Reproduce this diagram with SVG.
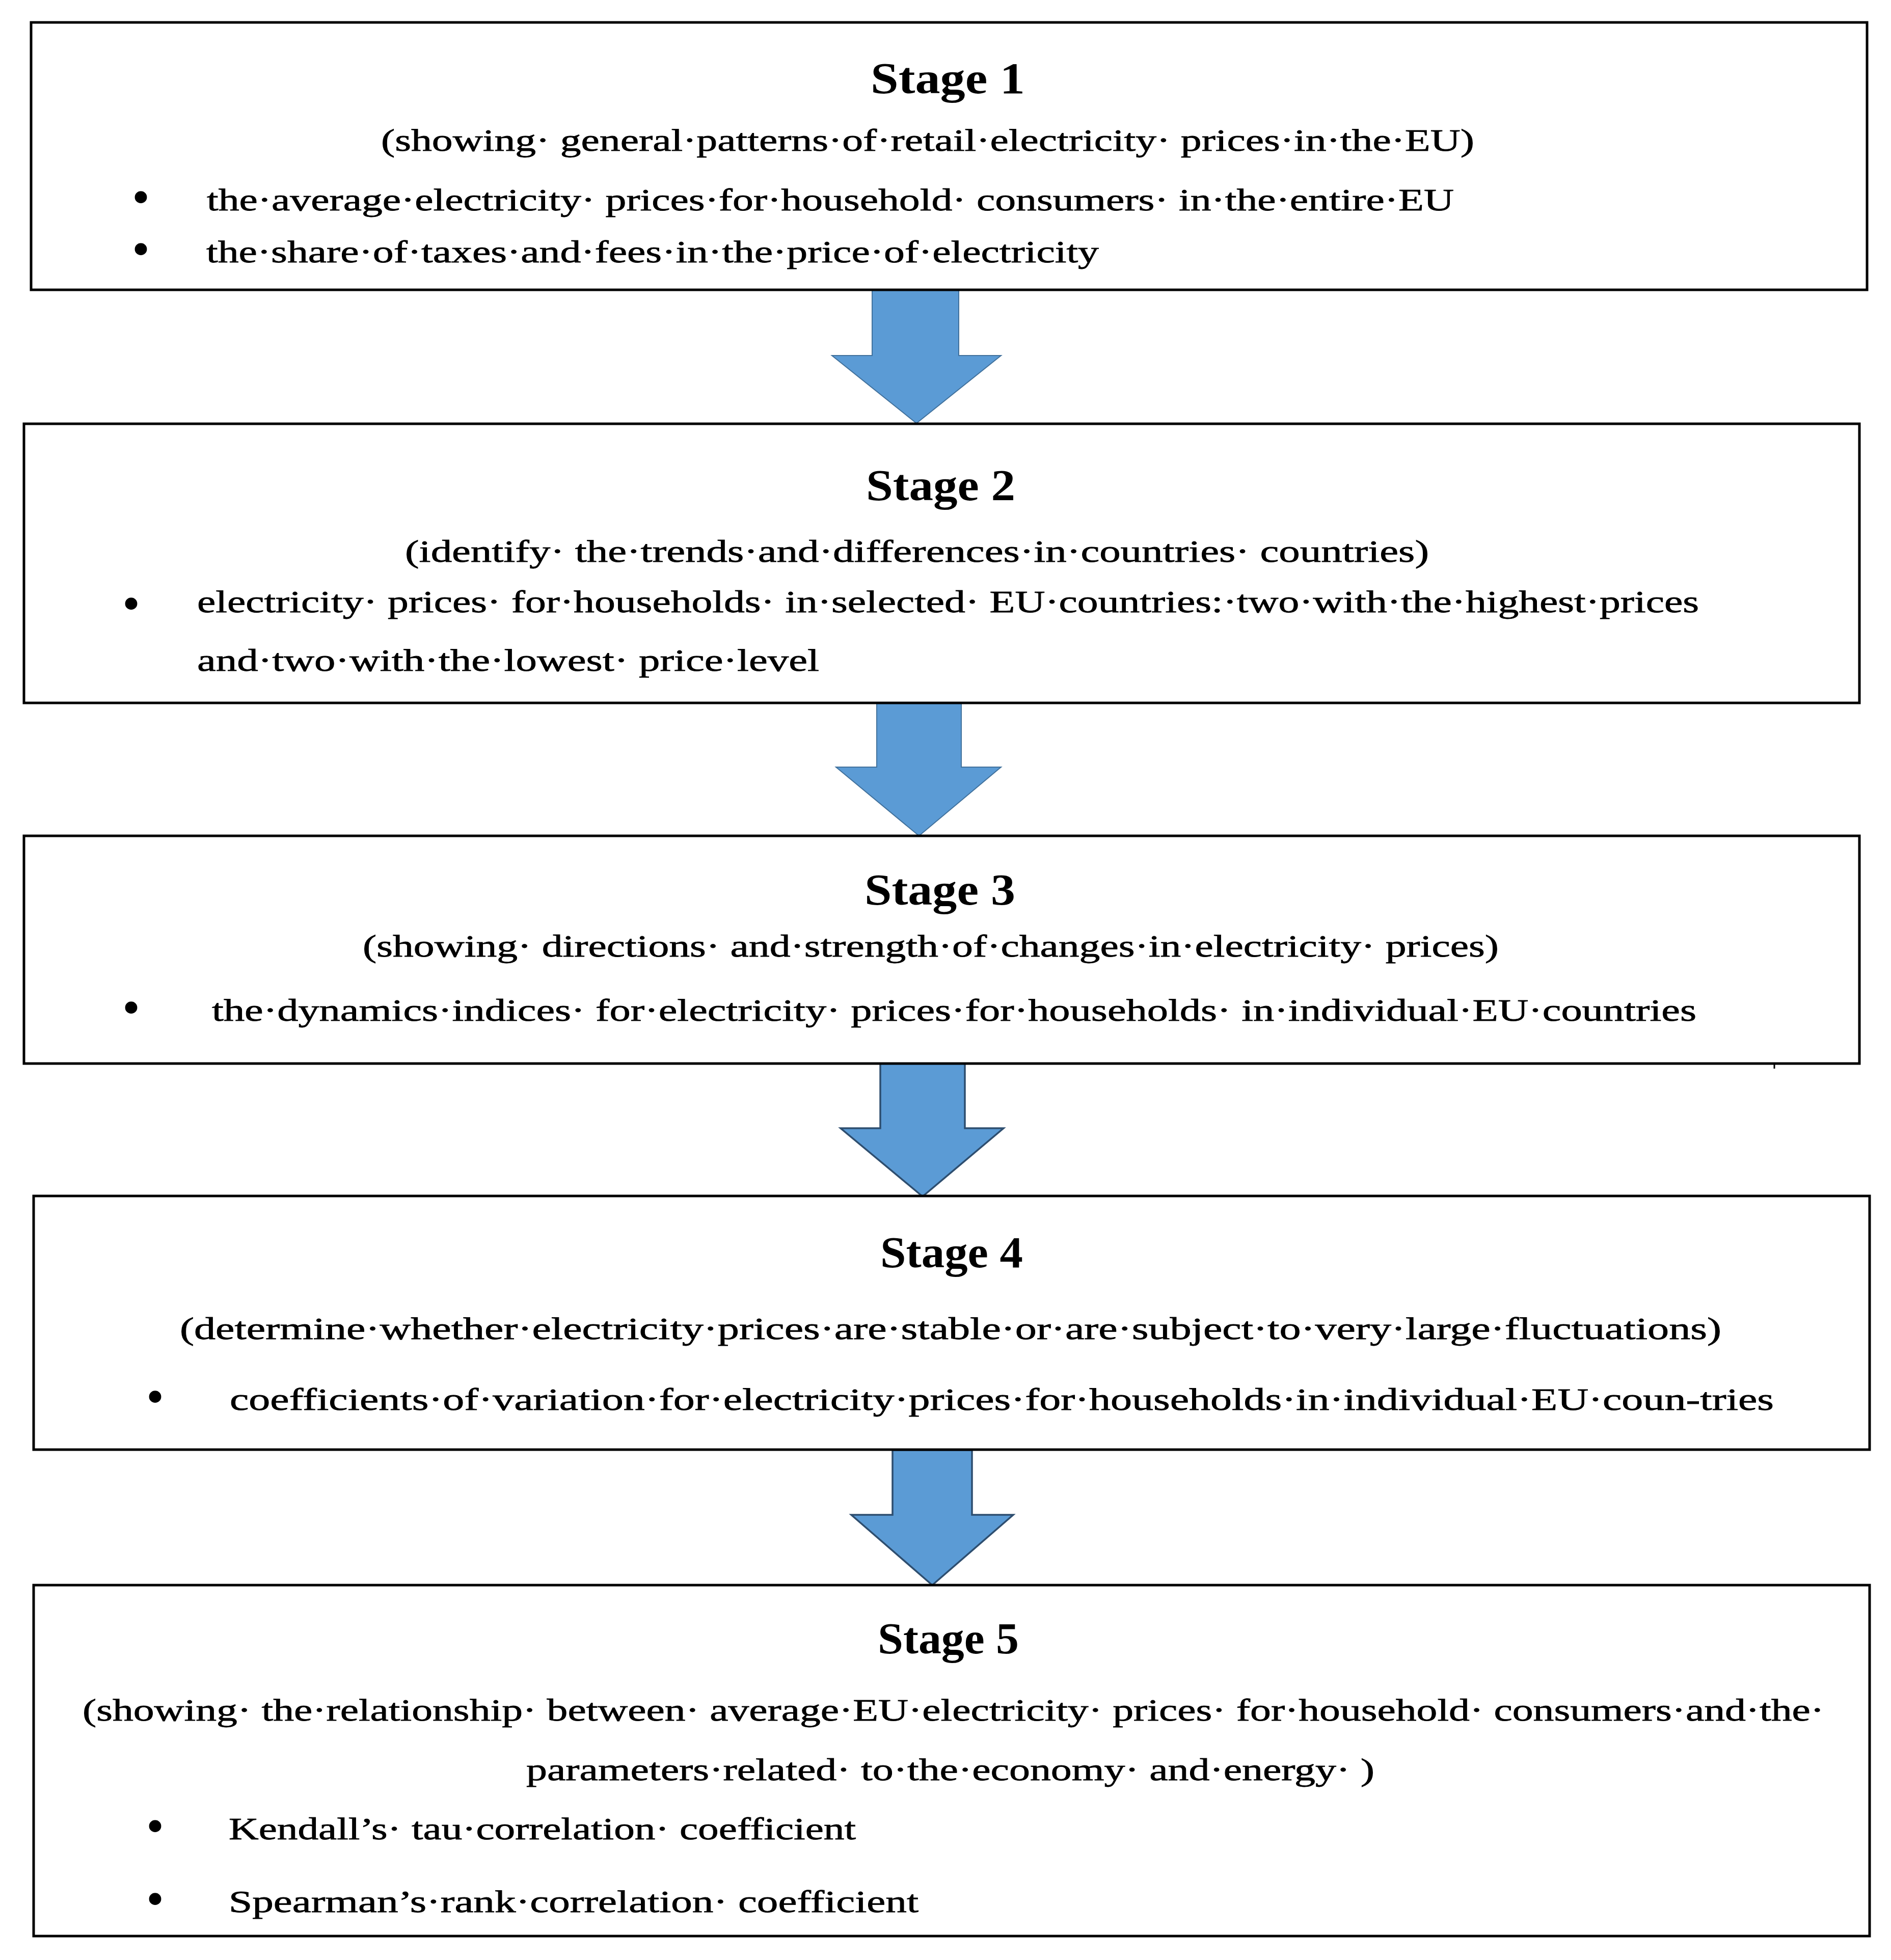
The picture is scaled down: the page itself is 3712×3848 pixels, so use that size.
<svg xmlns="http://www.w3.org/2000/svg" width="3712" height="3848" viewBox="0 0 3712 3848">
<style>
.box{fill:#fff;stroke:#000;stroke-width:5}
.arrow{fill:#5B9BD5;stroke:#41719C;stroke-width:2}
.arrow2{fill:#5B9BD5;stroke:#2E4E6F;stroke-width:3.5}
.title{font-family:"Liberation Serif","Times New Roman",serif;font-weight:bold;font-size:86px;fill:#000}
.t{font-family:"Liberation Serif","Times New Roman",serif;font-size:62px;fill:#000;stroke:#000;stroke-width:0.8}
.dot{font-family:"Liberation Serif","Times New Roman",serif;font-size:100px;fill:#000}
</style>
<rect x="0" y="0" width="3712" height="3848" fill="#fff"/>
<g id="connectors">
<path class="arrow" d="M1712,569 L1882,569 L1882,698 L1965,698 L1799,831 L1633,698 L1712,698 Z"/>
<path class="arrow" d="M1721,1381 L1887,1381 L1887,1506 L1965,1506 L1804,1641 L1641,1506 L1721,1506 Z"/>
<path class="arrow2" d="M1728,2088 L1894,2088 L1894,2215 L1970,2215 L1811,2349 L1650,2215 L1728,2215 Z"/>
<path class="arrow2" d="M1752,2847 L1908,2847 L1908,2974 L1989,2974 L1830,3112 L1671,2974 L1752,2974 Z"/>
</g>
<g id="stage1">
<rect class="box" x="61" y="44" width="3604" height="525"/>
<text class="title" x="1709" y="183" textLength="303" lengthAdjust="spacingAndGlyphs">Stage  1</text>
<text class="t" x="748" y="296" textLength="2146" lengthAdjust="spacingAndGlyphs">(showing· general·patterns·of·retail·electricity· prices·in·the·EU)</text>
<text class="dot" x="259" y="420">•</text>
<text class="t" x="406" y="413" textLength="2448" lengthAdjust="spacingAndGlyphs">the·average·electricity· prices·for·household· consumers· in·the·entire·EU</text>
<text class="dot" x="259" y="522">•</text>
<text class="t" x="405" y="515" textLength="1752" lengthAdjust="spacingAndGlyphs">the·share·of·taxes·and·fees·in·the·price·of·electricity</text>
</g>
<g id="stage2">
<rect class="box" x="47" y="832" width="3603" height="548"/>
<text class="title" x="1700" y="982" textLength="293" lengthAdjust="spacingAndGlyphs">Stage  2</text>
<text class="t" x="795" y="1103" textLength="2010" lengthAdjust="spacingAndGlyphs">(identify· the·trends·and·differences·in·countries· countries)</text>
<text class="dot" x="240" y="1218">•</text>
<text class="t" x="387" y="1202" textLength="2948" lengthAdjust="spacingAndGlyphs">electricity· prices· for·households· in·selected· EU·countries:·two·with·the·highest·prices</text>
<text class="t" x="387" y="1317" textLength="1221" lengthAdjust="spacingAndGlyphs">and·two·with·the·lowest· price·level</text>
</g>
<g id="stage3">
<rect class="box" x="47" y="1641" width="3603" height="447"/>
<text class="title" x="1697" y="1776" textLength="296" lengthAdjust="spacingAndGlyphs">Stage  3</text>
<text class="t" x="712" y="1878" textLength="2230" lengthAdjust="spacingAndGlyphs">(showing· directions· and·strength·of·changes·in·electricity· prices)</text>
<text class="dot" x="240" y="2011">•</text>
<text class="t" x="416" y="2004" textLength="2914" lengthAdjust="spacingAndGlyphs">the·dynamics·indices· for·electricity· prices·for·households· in·individual·EU·countries</text>
<path d="M3483,2088 L3483,2098" stroke="#000" stroke-width="3"/>
</g>
<g id="stage4">
<rect class="box" x="66" y="2348" width="3604" height="498"/>
<text class="title" x="1728" y="2488" textLength="280" lengthAdjust="spacingAndGlyphs">Stage 4</text>
<text class="t" x="353" y="2629" textLength="3026" lengthAdjust="spacingAndGlyphs">(determine·whether·electricity·prices·are·stable·or·are·subject·to·very·large·fluctuations)</text>
<text class="dot" x="287" y="2775">•</text>
<text class="t" x="451" y="2768" textLength="3031" lengthAdjust="spacingAndGlyphs">coefficients·of·variation·for·electricity·prices·for·households·in·individual·EU·coun-tries</text>
</g>
<g id="stage5">
<rect class="box" x="66" y="3112" width="3604" height="689"/>
<text class="title" x="1723" y="3246" textLength="277" lengthAdjust="spacingAndGlyphs">Stage 5</text>
<text class="t" x="162" y="3378" textLength="3419" lengthAdjust="spacingAndGlyphs">(showing· the·relationship· between· average·EU·electricity· prices· for·household· consumers·and·the·</text>
<text class="t" x="1033" y="3495" textLength="1665" lengthAdjust="spacingAndGlyphs">parameters·related· to·the·economy· and·energy· )</text>
<text class="dot" x="287" y="3618">•</text>
<text class="t" x="449" y="3611" textLength="1231" lengthAdjust="spacingAndGlyphs">Kendall’s· tau·correlation· coefficient</text>
<text class="dot" x="287" y="3761">•</text>
<text class="t" x="449" y="3754" textLength="1354" lengthAdjust="spacingAndGlyphs">Spearman’s·rank·correlation· coefficient</text>
</g>
</svg>
